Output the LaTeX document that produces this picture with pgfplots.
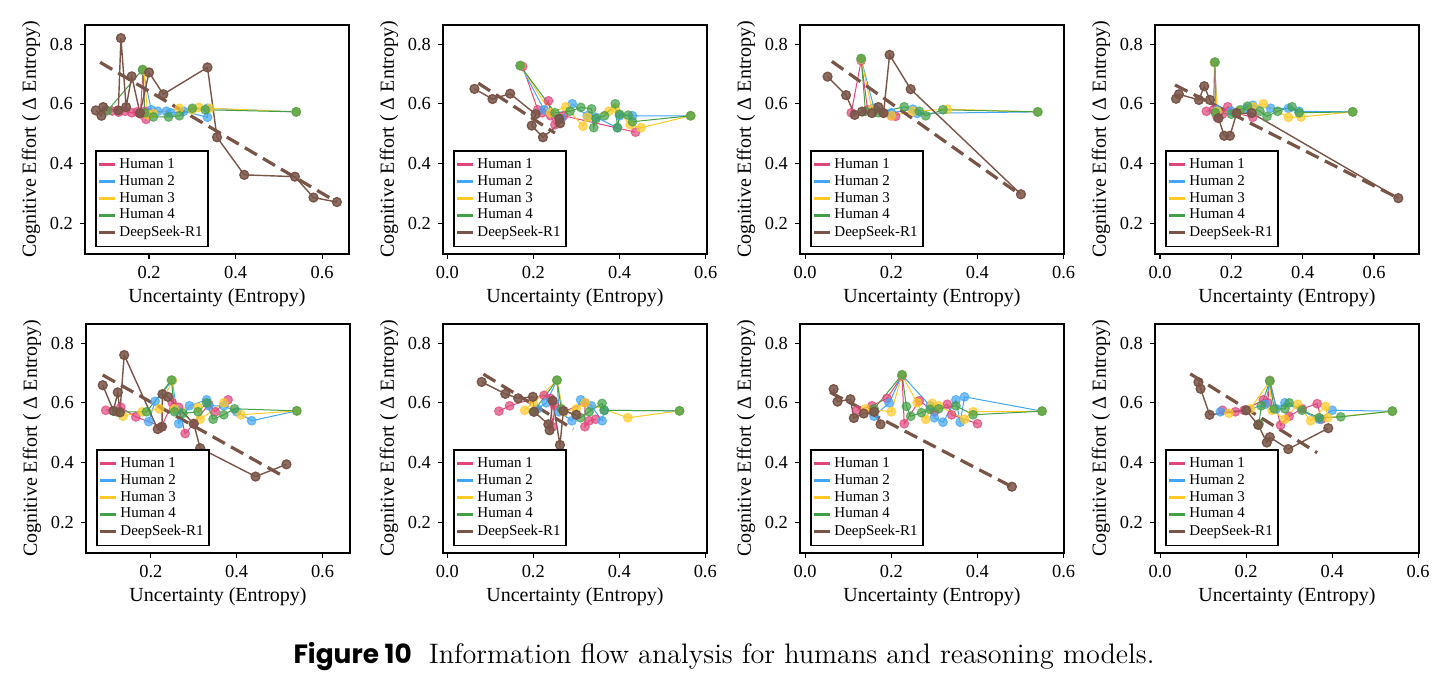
\documentclass[border=0pt]{standalone}
\usepackage{fontspec}
\usepackage{pgfplots}
\pgfplotsset{compat=1.18}
\newfontfamily\popfont{Poppins}
\newfontfamily\chartfont{Liberation Serif}
\definecolor{c1}{HTML}{E0457B}
\definecolor{c2}{HTML}{42A5F5}
\definecolor{c3}{HTML}{FFCA28}
\definecolor{c4}{HTML}{43A047}
\definecolor{cb}{HTML}{795548}
\pgfplotsset{
  panel/.style={width=132pt,height=114.5pt,scale only axis,
    ymin=0.097,ymax=0.864,ytick={0.2,0.4,0.6,0.8},xtick={0,0.2,0.4,0.6},
    tick pos=left, tick align=outside, major tick length=2.5pt,
    axis line style={line width=0.7pt}, tick style={line width=0.6pt,black},
    ticklabel style={font=\chartfont\fontsize{9.2}{10}\selectfont},
    xticklabel style={/pgf/number format/.cd,fixed,fixed zerofill,precision=1,assume math mode=true},
    yticklabel style={/pgf/number format/.cd,fixed,fixed zerofill,precision=1,assume math mode=true},
    label style={font=\chartfont\fontsize{10}{11}\selectfont},
    xlabel={Uncertainty (Entropy)}, ylabel={Cognitive Effort ( Δ Entropy)},
    xlabel style={yshift=2pt}, ylabel style={yshift=-2pt},
    legend cell align=left,
    legend style={at={(0.038,0.03)},anchor=south west,draw=black,line width=0.8pt,
      font=\chartfont\fontsize{7.5}{8.5}\selectfont,inner xsep=1pt,inner ysep=1.5pt,row sep=-2pt,
      nodes={inner xsep=1.5pt}},
    legend image code/.code={\draw[#1,line width=1.3pt] (0pt,0pt) -- (8pt,0pt);},
    anchor=north west, clip=true},
  hum/.style={color=#1, line width=0.5pt, mark=*, mark size=2.2pt,
    mark options={fill=#1,draw=#1,fill opacity=0.7,draw opacity=0.7}, forget plot},
  ds/.style={color=cb, line width=0.7pt, mark=*, mark size=2.2pt,
    mark options={fill=cb,draw=cb,fill opacity=0.85}, forget plot},
  reg/.style={color=cb, line width=1.6pt, dash pattern=on 7pt off 3.5pt, no markers, forget plot},
}
\newcommand{\legs}{%
  \addlegendimage{c1}\addlegendentry{Human 1}%
  \addlegendimage{c2}\addlegendentry{Human 2}%
  \addlegendimage{c3}\addlegendentry{Human 3}%
  \addlegendimage{c4}\addlegendentry{Human 4}%
  \addlegendimage{cb}\addlegendentry{DeepSeek-R1}}
\begin{document}
\begin{tikzpicture}
\path[use as bounding box] (0,0) rectangle (723pt,-342pt);
% ---------- Panel 1
\begin{axis}[panel, at={(42.5pt,-12.5pt)}, xmin=0.052, xmax=0.662, xtick={0.2,0.4,0.6}]
\addplot[hum=c1] coordinates {(0.100,0.580)(0.115,0.576)(0.130,0.572)(0.145,0.575)(0.160,0.570)(0.172,0.573)(0.180,0.566)(0.186,0.712)(0.190,0.575)(0.193,0.548)(0.200,0.570)};
\addplot[hum=c2] coordinates {(0.186,0.712)(0.205,0.580)(0.220,0.575)(0.240,0.575)(0.250,0.570)(0.280,0.575)(0.335,0.555)(0.335,0.585)(0.540,0.573)};
\addplot[hum=c3] coordinates {(0.188,0.712)(0.197,0.563)(0.210,0.567)(0.270,0.585)(0.300,0.580)(0.315,0.588)(0.340,0.585)(0.540,0.573)};
\addplot[hum=c4] coordinates {(0.104,0.577)(0.185,0.715)(0.190,0.570)(0.210,0.556)(0.245,0.556)(0.270,0.560)(0.300,0.585)(0.330,0.580)(0.540,0.573)};
\addplot[ds] coordinates {(0.077,0.578)(0.090,0.560)(0.094,0.589)(0.129,0.578)(0.135,0.820)(0.147,0.589)(0.160,0.692)(0.179,0.569)(0.200,0.705)(0.233,0.632)(0.335,0.722)(0.357,0.488)(0.420,0.362)(0.537,0.356)(0.580,0.286)(0.634,0.271)};
\addplot[reg] coordinates {(0.087,0.739)(0.634,0.271)};
\legs
\end{axis}
% ---------- Panel 2
\begin{axis}[panel, at={(221.5pt,-12.5pt)}, xmin=-0.010, xmax=0.603]
\addplot[hum=c1] coordinates {(0.175,0.725)(0.210,0.580)(0.220,0.570)(0.235,0.610)(0.240,0.560)(0.250,0.530)(0.260,0.550)(0.270,0.560)(0.437,0.505)};
\addplot[hum=c2] coordinates {(0.170,0.728)(0.225,0.580)(0.265,0.550)(0.290,0.600)(0.325,0.560)(0.345,0.555)(0.395,0.520)(0.400,0.560)(0.430,0.560)(0.565,0.560)};
\addplot[hum=c3] coordinates {(0.170,0.728)(0.240,0.570)(0.275,0.590)(0.315,0.525)(0.325,0.555)(0.375,0.575)(0.390,0.585)(0.425,0.530)(0.450,0.520)(0.565,0.560)};
\addplot[hum=c4] coordinates {(0.169,0.728)(0.250,0.570)(0.285,0.575)(0.310,0.588)(0.335,0.583)(0.340,0.520)(0.345,0.550)(0.365,0.560)(0.390,0.600)(0.395,0.520)(0.400,0.565)(0.420,0.562)(0.430,0.540)(0.565,0.560)};
\addplot[ds] coordinates {(0.063,0.650)(0.105,0.616)(0.146,0.634)(0.205,0.565)(0.196,0.527)(0.222,0.488)(0.262,0.535)(0.260,0.550)};
\addplot[reg] coordinates {(0.072,0.669)(0.250,0.502)};
\legs
\end{axis}
% ---------- Panel 3
\begin{axis}[panel, at={(400pt,-12.5pt)}, xmin=-0.012, xmax=0.601]
\addplot[hum=c1] coordinates {(0.107,0.570)(0.130,0.745)(0.145,0.580)(0.160,0.575)(0.180,0.570)(0.200,0.560)(0.210,0.558)};
\addplot[hum=c2] coordinates {(0.130,0.750)(0.160,0.585)(0.200,0.570)(0.250,0.582)(0.260,0.568)(0.540,0.573)};
\addplot[hum=c3] coordinates {(0.130,0.750)(0.155,0.580)(0.200,0.560)(0.250,0.575)(0.330,0.582)(0.540,0.573)};
\addplot[hum=c4] coordinates {(0.130,0.752)(0.140,0.575)(0.170,0.570)(0.230,0.590)(0.265,0.575)(0.280,0.560)(0.320,0.580)(0.540,0.573)};
\addplot[ds] coordinates {(0.052,0.691)(0.095,0.629)(0.115,0.563)(0.132,0.574)(0.155,0.569)(0.170,0.589)(0.182,0.569)(0.196,0.764)(0.245,0.649)(0.501,0.297)};
\addplot[reg] coordinates {(0.062,0.742)(0.490,0.305)};
\legs
\end{axis}
% ---------- Panel 4
\begin{axis}[panel, at={(577.5pt,-12.5pt)}, xmin=-0.014, xmax=0.726]
\addplot[hum=c1] coordinates {(0.130,0.575)(0.150,0.580)(0.153,0.738)(0.160,0.555)(0.175,0.565)(0.190,0.590)(0.210,0.570)(0.260,0.555)};
\addplot[hum=c2] coordinates {(0.153,0.738)(0.160,0.580)(0.200,0.575)(0.245,0.585)(0.260,0.595)(0.310,0.585)(0.360,0.585)(0.390,0.575)(0.540,0.573)};
\addplot[hum=c3] coordinates {(0.153,0.738)(0.160,0.575)(0.220,0.575)(0.260,0.590)(0.290,0.600)(0.360,0.555)(0.395,0.556)(0.540,0.573)};
\addplot[hum=c4] coordinates {(0.154,0.740)(0.155,0.570)(0.200,0.565)(0.225,0.580)(0.245,0.592)(0.280,0.575)(0.300,0.558)(0.330,0.575)(0.370,0.590)(0.390,0.570)(0.540,0.573)};
\addplot[ds] coordinates {(0.045,0.617)(0.053,0.632)(0.109,0.613)(0.124,0.659)(0.140,0.613)(0.164,0.552)(0.180,0.493)(0.196,0.493)(0.215,0.569)(0.257,0.569)(0.668,0.284)};
\addplot[reg] coordinates {(0.042,0.663)(0.668,0.284)};
\legs
\end{axis}
% ---------- Panel 5
\begin{axis}[panel, at={(43pt,-162pt)}, xmin=0.049, xmax=0.664, xtick={0.2,0.4,0.6}]
\addplot[hum=c1] coordinates {(0.095,0.575)(0.130,0.585)(0.165,0.553)(0.225,0.520)(0.250,0.600)(0.265,0.585)(0.280,0.497)(0.300,0.530)(0.335,0.595)(0.350,0.570)(0.380,0.610)};
\addplot[hum=c2] coordinates {(0.195,0.537)(0.210,0.605)(0.250,0.675)(0.260,0.575)(0.265,0.530)(0.290,0.590)(0.330,0.610)(0.335,0.590)(0.370,0.590)(0.400,0.570)(0.435,0.540)(0.540,0.573)};
\addplot[hum=c3] coordinates {(0.135,0.555)(0.180,0.570)(0.220,0.580)(0.250,0.675)(0.255,0.580)(0.310,0.585)(0.315,0.545)(0.370,0.600)(0.410,0.560)(0.540,0.573)};
\addplot[hum=c4] coordinates {(0.120,0.570)(0.190,0.570)(0.248,0.676)(0.255,0.570)(0.275,0.565)(0.310,0.570)(0.330,0.600)(0.345,0.545)(0.370,0.560)(0.395,0.580)(0.540,0.573)};
\addplot[ds] coordinates {(0.088,0.659)(0.113,0.573)(0.123,0.635)(0.128,0.568)(0.138,0.760)(0.216,0.512)(0.226,0.520)(0.227,0.629)(0.240,0.620)(0.300,0.530)(0.315,0.448)(0.444,0.353)(0.516,0.394)};
\addplot[reg] coordinates {(0.088,0.693)(0.514,0.350)};
\legs
\end{axis}
% ---------- Panel 6
\begin{axis}[panel, at={(221.5pt,-162pt)}, xmin=-0.010, xmax=0.604]
\addplot[hum=c1] coordinates {(0.120,0.572)(0.145,0.590)(0.225,0.625)(0.240,0.615)(0.245,0.520)(0.250,0.590)(0.270,0.570)(0.320,0.600)(0.320,0.520)(0.330,0.540)(0.345,0.545)};
\addplot[hum=c2] coordinates {(0.210,0.580)(0.230,0.600)(0.255,0.675)(0.260,0.570)(0.290,0.540)(0.310,0.610)(0.335,0.590)(0.360,0.540)(0.365,0.575)(0.540,0.573)};
\addplot[hum=c3] coordinates {(0.180,0.575)(0.200,0.600)(0.255,0.675)(0.270,0.570)(0.300,0.580)(0.320,0.600)(0.420,0.550)(0.540,0.573)};
\addplot[hum=c4] coordinates {(0.200,0.570)(0.255,0.676)(0.265,0.580)(0.310,0.550)(0.330,0.570)(0.360,0.598)(0.365,0.575)(0.540,0.573)};
\addplot[ds] coordinates {(0.080,0.670)(0.135,0.630)(0.165,0.615)(0.199,0.620)(0.202,0.570)(0.235,0.528)(0.238,0.508)(0.245,0.607)(0.262,0.459)(0.270,0.573)(0.300,0.560)};
\addplot[reg] coordinates {(0.084,0.696)(0.293,0.512)};
\legs
\end{axis}
% ---------- Panel 7
\begin{axis}[panel, at={(400pt,-162pt)}, xmin=-0.012, xmax=0.601]
\addplot[hum=c1] coordinates {(0.120,0.575)(0.155,0.590)(0.190,0.615)(0.225,0.690)(0.230,0.530)(0.265,0.607)(0.300,0.570)(0.330,0.595)(0.340,0.560)(0.400,0.530)};
\addplot[hum=c2] coordinates {(0.160,0.555)(0.195,0.600)(0.225,0.693)(0.290,0.590)(0.300,0.550)(0.320,0.535)(0.350,0.610)(0.360,0.535)(0.370,0.620)(0.550,0.572)};
\addplot[hum=c3] coordinates {(0.140,0.580)(0.200,0.570)(0.225,0.693)(0.260,0.600)(0.280,0.545)(0.295,0.598)(0.310,0.590)(0.370,0.545)(0.390,0.570)(0.550,0.572)};
\addplot[hum=c4] coordinates {(0.160,0.580)(0.225,0.694)(0.235,0.588)(0.245,0.555)(0.270,0.567)(0.290,0.578)(0.310,0.580)(0.350,0.590)(0.390,0.560)(0.550,0.572)};
\addplot[ds] coordinates {(0.066,0.646)(0.075,0.604)(0.105,0.612)(0.113,0.549)(0.136,0.564)(0.160,0.570)(0.175,0.528)};
\addplot[ds,only marks] coordinates {(0.480,0.319)};
\addplot[reg] coordinates {(0.058,0.635)(0.480,0.319)};
\legs
\end{axis}
% ---------- Panel 8
\begin{axis}[panel, at={(577.5pt,-162pt)}, xmin=-0.012, xmax=0.602]
\addplot[hum=c1] coordinates {(0.145,0.575)(0.175,0.570)(0.195,0.575)(0.240,0.610)(0.250,0.600)(0.255,0.675)(0.280,0.525)(0.300,0.555)(0.330,0.580)(0.365,0.597)(0.375,0.545)};
\addplot[hum=c2] coordinates {(0.140,0.570)(0.200,0.575)(0.245,0.595)(0.255,0.673)(0.270,0.580)(0.290,0.600)(0.370,0.545)(0.400,0.575)(0.540,0.572)};
\addplot[hum=c3] coordinates {(0.160,0.565)(0.210,0.580)(0.255,0.673)(0.260,0.575)(0.290,0.545)(0.320,0.595)(0.350,0.540)(0.385,0.588)(0.390,0.550)(0.540,0.572)};
\addplot[hum=c4] coordinates {(0.230,0.530)(0.235,0.590)(0.255,0.673)(0.265,0.580)(0.290,0.580)(0.300,0.600)(0.330,0.575)(0.370,0.550)(0.420,0.553)(0.540,0.572)};
\addplot[ds] coordinates {(0.089,0.669)(0.094,0.647)(0.115,0.560)(0.200,0.575)(0.228,0.526)(0.248,0.467)(0.255,0.485)(0.298,0.445)(0.391,0.515)};
\addplot[reg] coordinates {(0.070,0.697)(0.365,0.433)};
\legs
\end{axis}
% ---------- Caption
\node[anchor=base,font=\fontsize{14.1}{16}\selectfont] at (362pt,-331.5pt)
  {{\popfont\bfseries\fontsize{13.2}{15}\selectfont Figure 10}\hspace{8.5pt}Information flow analysis for humans and reasoning models.};
\end{tikzpicture}
\end{document}
